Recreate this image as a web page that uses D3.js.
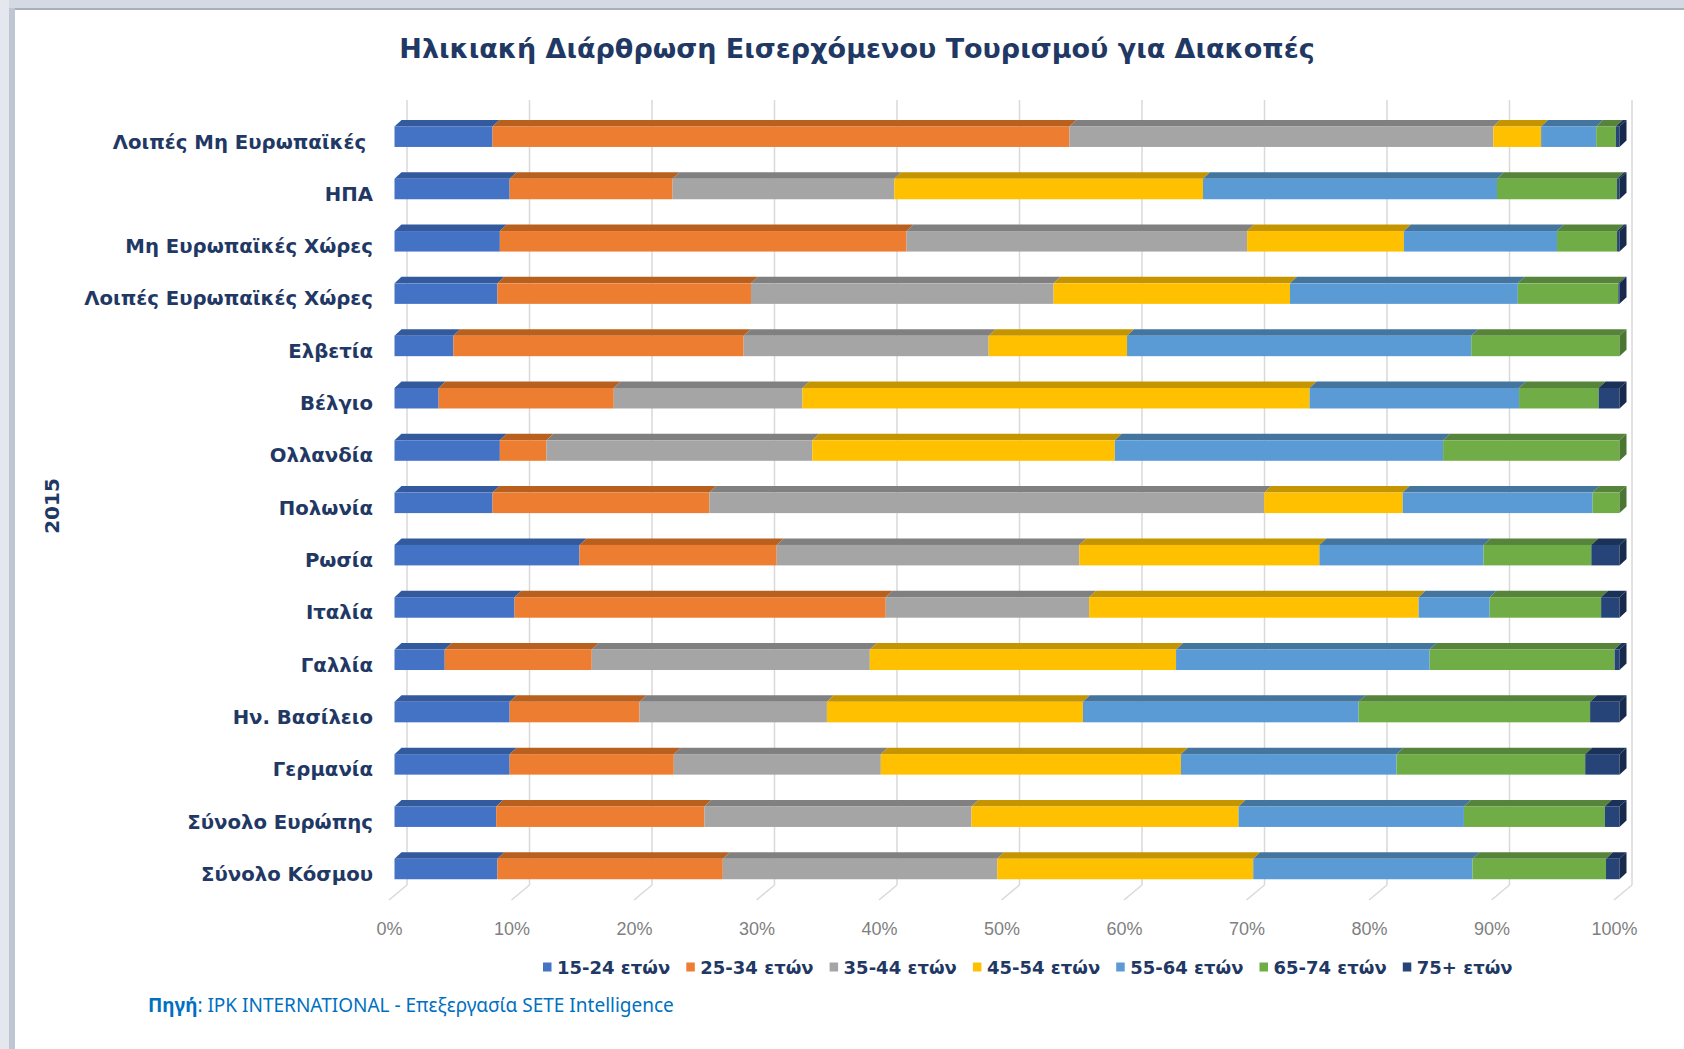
<!DOCTYPE html>
<html>
<head>
<meta charset="utf-8">
<script src="https://cdn.jsdelivr.net/npm/d3@7"></script>
<style>
  body { margin: 0; background: #fff; }
  svg { display: block; }
</style>
</head>
<body>
<svg id="chart" width="1684" height="1049"></svg>
<script>
const categories = ["Λοιπές Μη Ευρωπαϊκές\u00A0", "ΗΠΑ", "Μη Ευρωπαϊκές Χώρες", "Λοιπές Ευρωπαϊκές Χώρες",
  "Ελβετία", "Βέλγιο", "Ολλανδία", "Πολωνία", "Ρωσία", "Ιταλία", "Γαλλία", "Ην. Βασίλειο",
  "Γερμανία", "Σύνολο Ευρώπης", "Σύνολο Κόσμου"];
const ageGroups = ["15-24 ετών", "25-34 ετών", "35-44 ετών", "45-54 ετών", "55-64 ετών", "65-74 ετών", "75+ ετών"];

const age15_24 = [8.0, 9.4, 8.6, 8.4, 4.8, 3.6, 8.6, 8.0, 15.1, 9.8, 4.1, 9.4, 9.4, 8.3, 8.4];
const age25_34 = [47.1, 13.3, 33.2, 20.7, 23.7, 14.3, 3.8, 17.7, 16.1, 30.3, 12.0, 10.6, 13.4, 17.0, 18.4];
const age35_44 = [34.6, 18.1, 27.8, 24.7, 20.0, 15.4, 21.7, 45.3, 24.7, 16.6, 22.7, 15.3, 16.9, 21.8, 22.4];
const age45_54 = [3.9, 25.2, 12.8, 19.3, 11.3, 41.4, 24.7, 11.3, 19.6, 26.9, 25.0, 20.9, 24.5, 21.8, 20.9];
const age55_64 = [4.5, 24.0, 12.5, 18.6, 28.1, 17.1, 26.8, 15.5, 13.4, 5.8, 20.7, 22.5, 17.6, 18.4, 17.9];
const age65_74 = [1.6, 9.8, 4.9, 8.2, 12.1, 6.5, 14.4, 2.2, 8.8, 9.1, 15.1, 18.9, 15.4, 11.5, 10.9];
const age75plus = [0.3, 0.2, 0.2, 0.1, 0, 1.7, 0, 0, 2.3, 1.5, 0.4, 2.4, 2.8, 1.2, 1.1];

const tickValues = [0, 0.1, 0.2, 0.3, 0.4, 0.5, 0.6, 0.7, 0.8, 0.9, 1];

const seriesValues = [age15_24, age25_34, age35_44, age45_54, age55_64, age65_74, age75plus];
const frontColors = ["#4472C4", "#ED7D31", "#A5A5A5", "#FFC000", "#5B9BD5", "#70AD47", "#264478"];
const topColors = ["#335A9C", "#B9601F", "#808080", "#C59500", "#44759F", "#56843A", "#1B3157"];
const sideColors = ["#2C4E88", "#A3541B", "#6F6F6F", "#AD8300", "#3B6690", "#4B7533", "#172A4B"];
const navy = "#1F3864";

// build table for d3.stack
const rows = categories.map((c, i) => {
  const r = { cat: c };
  ageGroups.forEach((g, k) => r[g] = seriesValues[k][i]);
  return r;
});
const stacked = d3.stack().keys(ageGroups).offset(d3.stackOffsetExpand)(rows);

const svg = d3.select("#chart");

// frame edges (shadow)
svg.append("rect").attr("x", 0).attr("y", 0).attr("width", 1684).attr("height", 10).attr("fill", "#D5D9E2");
svg.append("rect").attr("x", 0).attr("y", 8).attr("width", 1684).attr("height", 2).attr("fill", "#A7AFBF");
svg.append("rect").attr("x", 0).attr("y", 0).attr("width", 9).attr("height", 1049).attr("fill", "#E4E7EE");
svg.append("rect").attr("x", 9).attr("y", 8).attr("width", 6).attr("height", 1041).attr("fill", "#BEC5D3");

// scales
const x = d3.scaleLinear().domain([0, 1]).range([407, 1632]);   // back wall
const y = d3.scalePoint().domain(categories).range([136.7, 869]);
const wallTop = 100, wallBottom = 885;
const floorDx = -18, floorDy = 15;
const frontDx = -12.5;          // bar front face offset from back wall
const depthX = 7, depthY = 6.5; // bar depth
const barH = 20.5;

// gridlines + floor
const grid = svg.append("g");
grid.selectAll("line.v").data(tickValues).join("line")
  .attr("x1", d => x(d)).attr("x2", d => x(d))
  .attr("y1", wallTop).attr("y2", wallBottom)
  .attr("stroke", "#D9D9D9").attr("stroke-width", 1.5);
grid.selectAll("line.f").data(tickValues).join("line")
  .attr("x1", d => x(d)).attr("x2", d => x(d) + floorDx)
  .attr("y1", wallBottom).attr("y2", wallBottom + floorDy)
  .attr("stroke", "#D9D9D9").attr("stroke-width", 1.5);

// x axis labels
const xAxis = svg.append("g")
  .attr("transform", `translate(${floorDx},${wallBottom + floorDy + 16})`)
  .call(d3.axisBottom(x).tickValues(tickValues).tickFormat(d3.format(".0%")).tickSize(0).tickPadding(6));
xAxis.select(".domain").remove();
xAxis.selectAll("text")
  .attr("fill", "#7F7F7F")
  .style("font-family", "'Liberation Sans', Arial, sans-serif")
  .style("font-size", "18px");

// bars
const fx = v => x(v) + frontDx;
const bars = svg.append("g");
stacked.forEach((s, k) => {
  const g = bars.append("g");
  g.selectAll("path.top").data(s).join("path")
    .attr("d", d => {
      const t = y(d.data.cat) - barH / 2;
      const x0 = fx(d[0]), x1 = fx(d[1]);
      return `M${x0},${t}L${x0 + depthX},${t - depthY}L${x1 + depthX},${t - depthY}L${x1},${t}Z`;
    })
    .attr("fill", topColors[k]);
  g.selectAll("rect").data(s).join("rect")
    .attr("x", d => fx(d[0]))
    .attr("y", d => y(d.data.cat) - barH / 2)
    .attr("width", d => fx(d[1]) - fx(d[0]))
    .attr("height", barH)
    .attr("fill", frontColors[k]);
});

// right side face, coloured by the last non-zero segment
bars.selectAll("path.side").data(categories).join("path")
  .attr("d", c => {
    const t = y(c) - barH / 2, xr = fx(1);
    return `M${xr},${t}L${xr + depthX},${t - depthY}L${xr + depthX},${t - depthY + barH}L${xr},${t + barH}Z`;
  })
  .attr("fill", (c, i) => {
    let k = seriesValues.length - 1;
    while (k > 0 && seriesValues[k][i] <= 0) k--;
    return sideColors[k];
  });

// category labels
const yAxis = svg.append("g")
  .attr("transform", "translate(373,5)")
  .call(d3.axisLeft(y).tickSize(0).tickPadding(0));
yAxis.select(".domain").remove();
yAxis.selectAll("text")
  .attr("fill", navy)
  .style("font-family", "'DejaVu Sans', Verdana, sans-serif")
  .style("font-weight", "bold")
  .style("font-size", "19.7px");

// vertical group label
svg.append("text")
  .attr("transform", "translate(59,506) rotate(-90)")
  .attr("text-anchor", "middle")
  .attr("fill", navy)
  .style("font-family", "'DejaVu Sans', Verdana, sans-serif")
  .style("font-weight", "bold")
  .style("font-size", "20px")
  .text("2015");

// title
svg.append("text")
  .attr("x", 857).attr("y", 58)
  .attr("text-anchor", "middle")
  .attr("fill", navy)
  .style("font-family", "'DejaVu Sans', Verdana, sans-serif")
  .style("font-weight", "bold")
  .style("font-size", "27px")
  .text("Ηλικιακή Διάρθρωση Εισερχόμενου Τουρισμού για Διακοπές");

// legend
const legend = svg.append("g").attr("transform", "translate(543,967)");
const item = legend.selectAll("g").data(ageGroups).join("g")
  .attr("transform", (d, i) => `translate(${i * 143.3},0)`);
item.append("rect").attr("x", 0).attr("y", -4.5).attr("width", 8.5).attr("height", 9)
  .attr("fill", (d, i) => frontColors[i]);
item.append("text").attr("x", 14).attr("y", 6.5)
  .attr("fill", navy)
  .style("font-family", "'DejaVu Sans', Verdana, sans-serif")
  .style("font-weight", "bold")
  .style("font-size", "18px")
  .text(d => d);

// source
const src = svg.append("text")
  .attr("x", 148).attr("y", 1012)
  .attr("fill", "#0070C0")
  .style("font-family", "'Noto Sans', 'Open Sans', sans-serif")
  .style("font-size", "19px");
src.append("tspan").style("font-weight", "bold").text("Πηγή");
src.append("tspan").text(": IPK INTERNATIONAL - Επεξεργασία SETE Intelligence");
</script>
</body>
</html>
